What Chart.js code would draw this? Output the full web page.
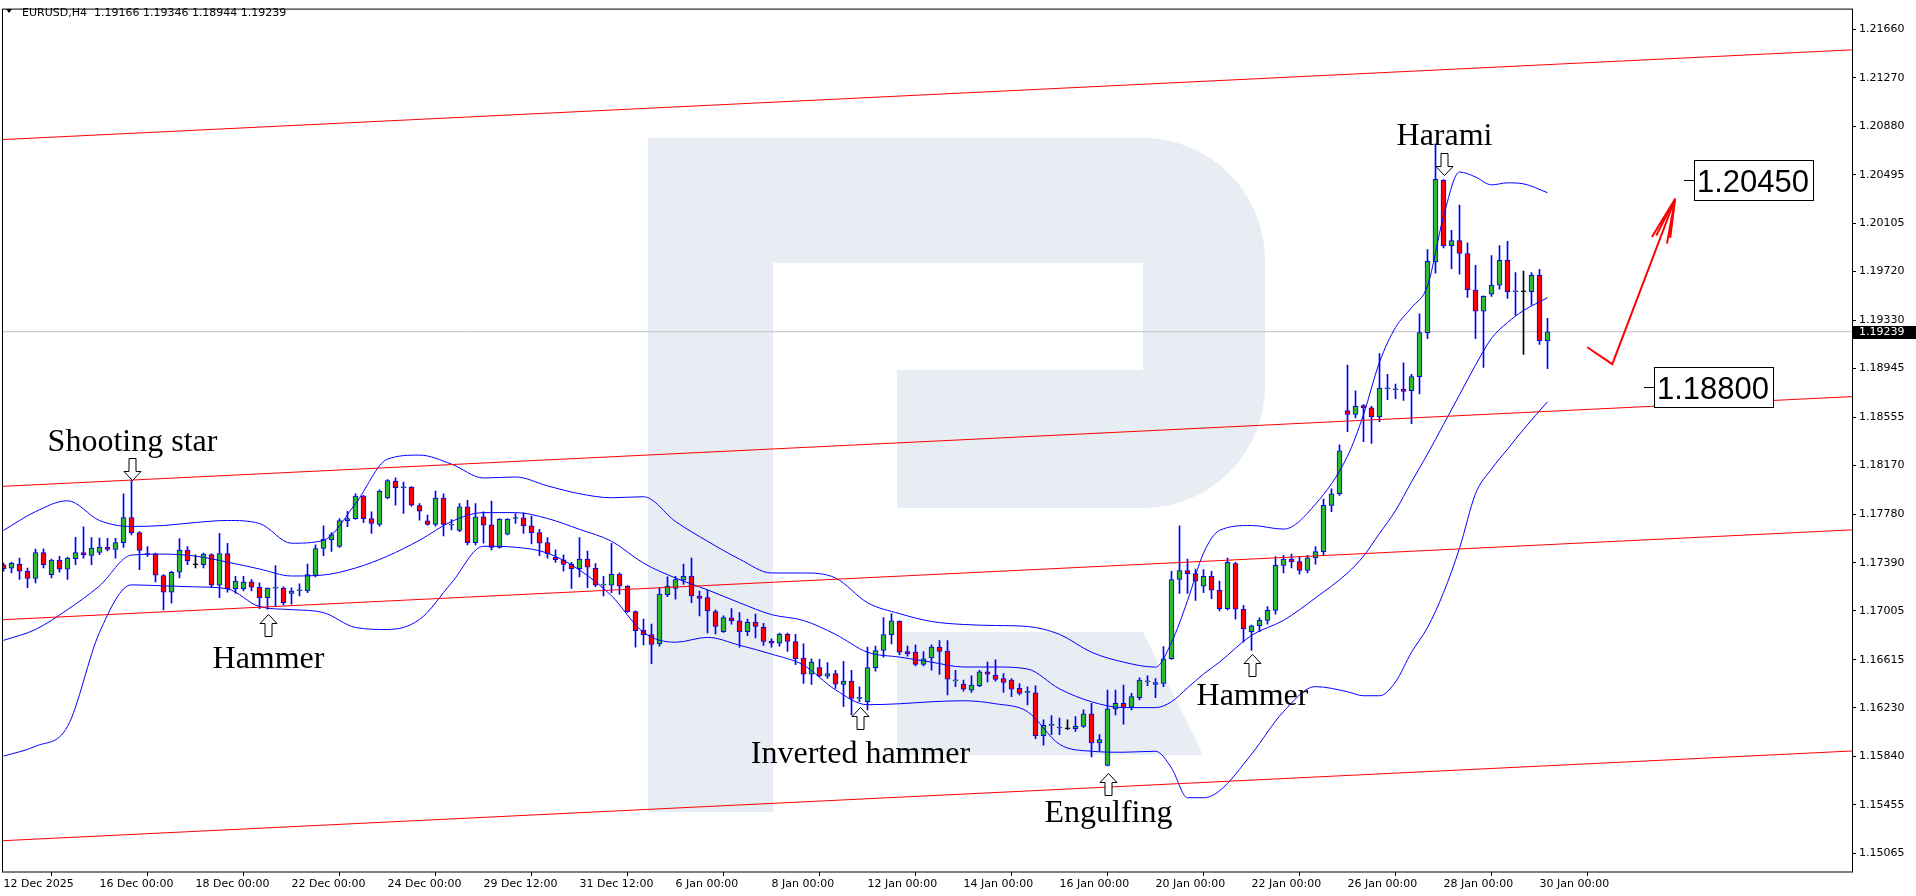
<!DOCTYPE html>
<html>
<head>
<meta charset="utf-8">
<script src="https://cdn.jsdelivr.net/npm/chart.js@4.4.1/dist/chart.umd.min.js"></script>
<style>
html, body { margin: 0; padding: 0; background: #fff; overflow: hidden; }
canvas { display: block; }
</style>
</head>
<body>
<canvas id="chart" width="1916" height="896"></canvas>
<script>
const symbolName = 'EURUSD,H4'
const dateLabels = ['12 Dec 2025', '16 Dec 00:00', '18 Dec 00:00', '22 Dec 00:00', '24 Dec 00:00', '29 Dec 12:00',
    '31 Dec 12:00', '6 Jan 00:00', '8 Jan 00:00', '12 Jan 00:00', '14 Jan 00:00', '16 Jan 00:00',
    '20 Jan 00:00', '22 Jan 00:00', '26 Jan 00:00', '28 Jan 00:00', '30 Jan 00:00'];
const dateIndex = [0, 12, 24, 36, 48, 60, 72, 84, 96, 108, 120, 132, 144, 156, 168, 180, 192];
const priceTicks = [1.21660, 1.21270, 1.20880, 1.20495, 1.20105, 1.19720, 1.19330, 1.18945, 1.18555,
    1.18170, 1.17780, 1.17390, 1.17005, 1.16615, 1.16230, 1.15840, 1.15455, 1.15065];

// H4 candles, oldest first
const open = [
    1.17375, 1.17347, 1.17378, 1.17323, 1.17265, 1.17473, 1.17296, 1.17410, 1.17339, 1.17423,
    1.17473, 1.17450, 1.17473, 1.17516, 1.17497, 1.17552, 1.17753, 1.17632, 1.17463, 1.17463,
    1.17289, 1.17156, 1.17315, 1.17492, 1.17375, 1.17375, 1.17457, 1.17212, 1.17465, 1.17183,
    1.17183, 1.17238, 1.17194, 1.17111, 1.17188, 1.17188, 1.17146, 1.17167, 1.17165, 1.17289,
    1.17505, 1.17574, 1.17521, 1.17727, 1.17743, 1.17925, 1.17745, 1.17698, 1.17909, 1.18044,
    1.17991, 1.17996, 1.17848, 1.17727, 1.17698, 1.17909, 1.17692, 1.17650, 1.17838, 1.17552,
    1.17758, 1.17695, 1.17513, 1.17619, 1.17745, 1.17751, 1.17687, 1.17632, 1.17553, 1.17434,
    1.17415, 1.17378, 1.17344, 1.17421, 1.17347, 1.17212, 1.17212, 1.17299, 1.17204, 1.17000,
    1.16853, 1.16816, 1.16742, 1.17135, 1.17186, 1.17252, 1.17283, 1.17125, 1.17112, 1.17001,
    1.16840, 1.16950, 1.16927, 1.16840, 1.16914, 1.16874, 1.16763, 1.16747, 1.16821, 1.16761,
    1.16629, 1.16500, 1.16552, 1.16483, 1.16504, 1.16418, 1.16444, 1.16306, 1.16280, 1.16552,
    1.16689, 1.16816, 1.16922, 1.16681, 1.16676, 1.16578, 1.16629, 1.16716, 1.16684, 1.16446,
    1.16420, 1.16372, 1.16407, 1.16518, 1.16491, 1.16465, 1.16452, 1.16386, 1.16354, 1.16351,
    1.16008, 1.16090, 1.16069, 1.16063, 1.16063, 1.16082, 1.16182, 1.15950, 1.15770, 1.16222,
    1.16267, 1.16235, 1.16312, 1.16438, 1.16417, 1.16425, 1.16623, 1.17257, 1.17328, 1.17304,
    1.17204, 1.17283, 1.17170, 1.17024, 1.17384, 1.17019, 1.16840, 1.16887, 1.16930, 1.17010,
    1.17370, 1.17420, 1.17400, 1.17330, 1.17430, 1.17480, 1.17850, 1.17943, 1.18608, 1.18577,
    1.18648, 1.18630, 1.18558, 1.18783, 1.18775, 1.18780, 1.18767, 1.18880, 1.19232, 1.19797,
    1.20451, 1.19928, 1.19968, 1.19865, 1.19572, 1.19403, 1.19540, 1.19612, 1.19810, 1.19559,
    1.19559, 1.19559, 1.19691, 1.19166];
const high = [
    1.17389, 1.17397, 1.17428, 1.17349, 1.17500, 1.17503, 1.17420, 1.17442, 1.17436, 1.17595,
    1.17679, 1.17592, 1.17589, 1.17587, 1.17587, 1.17943, 1.18049, 1.17640, 1.17521, 1.17468,
    1.17296, 1.17323, 1.17584, 1.17521, 1.17455, 1.17468, 1.17463, 1.17626, 1.17547, 1.17283,
    1.17283, 1.17257, 1.17230, 1.17191, 1.17368, 1.17199, 1.17191, 1.17222, 1.17381, 1.17534,
    1.17687, 1.17632, 1.17745, 1.17803, 1.17943, 1.17930, 1.17798, 1.17975, 1.18057, 1.18070,
    1.18036, 1.18001, 1.17864, 1.17772, 1.17964, 1.17943, 1.17737, 1.17864, 1.17890, 1.17864,
    1.17798, 1.17885, 1.17745, 1.17745, 1.17785, 1.17790, 1.17764, 1.17658, 1.17592, 1.17494,
    1.17455, 1.17394, 1.17592, 1.17484, 1.17384, 1.17283, 1.17547, 1.17310, 1.17209, 1.17006,
    1.16940, 1.16900, 1.17191, 1.17278, 1.17283, 1.17381, 1.17428, 1.17164, 1.17172, 1.17014,
    1.16966, 1.17025, 1.16993, 1.16940, 1.16980, 1.16906, 1.16782, 1.16829, 1.16829, 1.16818,
    1.16742, 1.16623, 1.16618, 1.16592, 1.16531, 1.16602, 1.16531, 1.16399, 1.16716, 1.16724,
    1.16953, 1.16985, 1.16927, 1.16724, 1.16734, 1.16681, 1.16734, 1.16768, 1.16768, 1.16531,
    1.16452, 1.16486, 1.16531, 1.16597, 1.16615, 1.16504, 1.16465, 1.16425, 1.16399, 1.16407,
    1.16135, 1.16169, 1.16148, 1.16135, 1.16161, 1.16214, 1.16267, 1.16016, 1.16372, 1.16372,
    1.16412, 1.16346, 1.16470, 1.16486, 1.16465, 1.16721, 1.17323, 1.17687, 1.17421, 1.17341,
    1.17336, 1.17323, 1.17244, 1.17428, 1.17394, 1.17051, 1.16892, 1.16950, 1.17040, 1.17440,
    1.17450, 1.17460, 1.17440, 1.17450, 1.17520, 1.17900, 1.17983, 1.18334, 1.18973, 1.18767,
    1.18656, 1.18643, 1.19065, 1.18899, 1.18820, 1.18991, 1.18899, 1.19382, 1.19897, 1.20742,
    1.20456, 1.20050, 1.20253, 1.19950, 1.19770, 1.19527, 1.19849, 1.19928, 1.19963, 1.19712,
    1.19725, 1.19712, 1.19738, 1.19346];
const low = [
    1.17323, 1.17310, 1.17257, 1.17191, 1.17230, 1.17349, 1.17270, 1.17315, 1.17257, 1.17375,
    1.17428, 1.17375, 1.17455, 1.17486, 1.17428, 1.17513, 1.17613, 1.17336, 1.17442, 1.17238,
    1.17014, 1.17067, 1.17270, 1.17375, 1.17349, 1.17349, 1.17191, 1.17111, 1.17156, 1.17146,
    1.17165, 1.17165, 1.17024, 1.17019, 1.17040, 1.17051, 1.17059, 1.17125, 1.17151, 1.17278,
    1.17447, 1.17481, 1.17513, 1.17679, 1.17737, 1.17711, 1.17626, 1.17684, 1.17901, 1.17851,
    1.17785, 1.17843, 1.17732, 1.17692, 1.17684, 1.17605, 1.17653, 1.17640, 1.17534, 1.17534,
    1.17547, 1.17494, 1.17508, 1.17613, 1.17706, 1.17626, 1.17542, 1.17447, 1.17428, 1.17394,
    1.17323, 1.17186, 1.17278, 1.17191, 1.17199, 1.17125, 1.17151, 1.17138, 1.16993, 1.16716,
    1.16734, 1.16584, 1.16724, 1.17120, 1.17099, 1.17217, 1.17072, 1.16966, 1.16829, 1.16821,
    1.16834, 1.16900, 1.16716, 1.16808, 1.16789, 1.16729, 1.16716, 1.16724, 1.16681, 1.16576,
    1.16426, 1.16418, 1.16478, 1.16465, 1.16386, 1.16240, 1.16174, 1.16280, 1.16214, 1.16523,
    1.16636, 1.16742, 1.16655, 1.16644, 1.16565, 1.16565, 1.16531, 1.16497, 1.16333, 1.16399,
    1.16364, 1.16354, 1.16399, 1.16438, 1.16444, 1.16354, 1.16320, 1.16333, 1.16254, 1.15984,
    1.15932, 1.16016, 1.16016, 1.16056, 1.16042, 1.16074, 1.15837, 1.15884, 1.15765, 1.16174,
    1.16100, 1.16214, 1.16293, 1.16407, 1.16312, 1.16399, 1.16618, 1.17146, 1.17146, 1.17090,
    1.17151, 1.17104, 1.17006, 1.17014, 1.16940, 1.16755, 1.16689, 1.16840, 1.16900, 1.16980,
    1.17310, 1.17350, 1.17300, 1.17310, 1.17380, 1.17450, 1.17800, 1.17930, 1.18440, 1.18550,
    1.18360, 1.18345, 1.18519, 1.18696, 1.18704, 1.18690, 1.18503, 1.18741, 1.19184, 1.19707,
    1.19910, 1.19744, 1.19699, 1.19514, 1.19184, 1.18954, 1.19522, 1.19580, 1.19506, 1.19369,
    1.19057, 1.19453, 1.19137, 1.18944];
const close = [
    1.17344, 1.17386, 1.17323, 1.17265, 1.17473, 1.17375, 1.17413, 1.17339, 1.17428, 1.17473,
    1.17455, 1.17508, 1.17516, 1.17497, 1.17552, 1.17753, 1.17632, 1.17489, 1.17457, 1.17291,
    1.17156, 1.17315, 1.17492, 1.17405, 1.17375, 1.17460, 1.17212, 1.17465, 1.17183, 1.17244,
    1.17236, 1.17196, 1.17111, 1.17188, 1.17191, 1.17072, 1.17165, 1.17170, 1.17296, 1.17505,
    1.17579, 1.17616, 1.17729, 1.17745, 1.17925, 1.17743, 1.17706, 1.17964, 1.18049, 1.17991,
    1.17994, 1.17851, 1.17803, 1.17698, 1.17909, 1.17698, 1.17695, 1.17838, 1.17552, 1.17758,
    1.17692, 1.17513, 1.17740, 1.17740, 1.17748, 1.17687, 1.17632, 1.17547, 1.17463, 1.17415,
    1.17378, 1.17344, 1.17421, 1.17355, 1.17212, 1.17215, 1.17299, 1.17204, 1.17000, 1.16848,
    1.16816, 1.16737, 1.17141, 1.17204, 1.17257, 1.17283, 1.17125, 1.17106, 1.17006, 1.16882,
    1.16953, 1.16927, 1.16840, 1.16914, 1.16882, 1.16761, 1.16747, 1.16821, 1.16761, 1.16623,
    1.16500, 1.16597, 1.16486, 1.16504, 1.16420, 1.16444, 1.16306, 1.16309, 1.16552, 1.16689,
    1.16816, 1.16927, 1.16676, 1.16663, 1.16578, 1.16623, 1.16716, 1.16681, 1.16460, 1.16449,
    1.16380, 1.16412, 1.16518, 1.16499, 1.16457, 1.16433, 1.16380, 1.16346, 1.16357, 1.16008,
    1.16090, 1.16093, 1.16072, 1.16063, 1.16082, 1.16182, 1.15950, 1.15976, 1.16222, 1.16267,
    1.16235, 1.16320, 1.16452, 1.16441, 1.16433, 1.16623, 1.17257, 1.17328, 1.17304, 1.17244,
    1.17283, 1.17172, 1.17024, 1.17394, 1.17019, 1.16861, 1.16887, 1.16930, 1.17010, 1.17370,
    1.17420, 1.17400, 1.17330, 1.17430, 1.17480, 1.17850, 1.17943, 1.18286, 1.18577, 1.18643,
    1.18630, 1.18558, 1.18788, 1.18786, 1.18778, 1.18762, 1.18880, 1.19232, 1.19802, 1.20459,
    1.19928, 1.19968, 1.19865, 1.19575, 1.19403, 1.19522, 1.19612, 1.19810, 1.19559, 1.19562,
    1.19559, 1.19691, 1.19168, 1.19239];

// Bollinger bands at these bar numbers
const bandIndex = [0, 4, 8, 12, 16, 20, 24, 28, 32, 36, 40, 44, 48, 52, 56, 60, 64, 68, 72, 76, 80, 84, 88, 92,
    96, 100, 104, 108, 112, 116, 120, 124, 128, 132, 136, 140, 144, 146, 148, 150, 152, 156, 160, 164, 168,
    170, 172, 174, 176, 178, 180, 182, 184, 186, 188, 190, 193];
const bandUpper = [1.17650, 1.17800, 1.17887, 1.17729, 1.17681, 1.17689, 1.17713, 1.17729, 1.17705, 1.17547,
    1.17571, 1.17864, 1.18220, 1.18252, 1.18180, 1.18069, 1.18077, 1.18006, 1.17943, 1.17911, 1.17919,
    1.17721, 1.17563, 1.17420, 1.17309, 1.17309, 1.17269, 1.17071, 1.16984, 1.16921, 1.16897, 1.16889,
    1.16881, 1.16818, 1.16675, 1.16596, 1.16556, 1.16754, 1.17087, 1.17468, 1.17650, 1.17689, 1.17660,
    1.17860, 1.18244, 1.18576, 1.18996, 1.19273, 1.19432, 1.19606, 1.20161, 1.20517, 1.20477, 1.20414,
    1.20430, 1.20422, 1.20351];
const bandMiddle = [1.16770, 1.16857, 1.17016, 1.17206, 1.17452, 1.17460, 1.17444, 1.17396, 1.17341, 1.17285,
    1.17293, 1.17349, 1.17444, 1.17571, 1.17721, 1.17792, 1.17792, 1.17745, 1.17658, 1.17563, 1.17388,
    1.17269, 1.17174, 1.17071, 1.16976, 1.16929, 1.16818, 1.16675, 1.16636, 1.16596, 1.16557, 1.16557,
    1.16541, 1.16382, 1.16279, 1.16232, 1.16232, 1.16279, 1.16390, 1.16501, 1.16596, 1.16810, 1.16930,
    1.17110, 1.17309, 1.17444, 1.17626, 1.17808, 1.18038, 1.18260, 1.18497, 1.18735, 1.18972, 1.19186,
    1.19313, 1.19408, 1.19511];
const bandLower = [1.15844, 1.15923, 1.16081, 1.16834, 1.17214, 1.17206, 1.17198, 1.17182, 1.17040, 1.17016,
    1.16992, 1.16873, 1.16857, 1.16937, 1.17230, 1.17523, 1.17515, 1.17468, 1.17333, 1.17127, 1.16834,
    1.16755, 1.16794, 1.16731, 1.16660, 1.16572, 1.16374, 1.16255, 1.16263, 1.16279, 1.16287, 1.16263,
    1.16200, 1.15939, 1.15883, 1.15875, 1.15883, 1.15749, 1.15511, 1.15511, 1.15566, 1.15860, 1.16200,
    1.16400, 1.16359, 1.16327, 1.16327, 1.16438, 1.16675, 1.16873, 1.17151, 1.17507, 1.17943, 1.18141,
    1.18299, 1.18458, 1.18679];

// parallel red channel lines, value at the left and right edge of the plot
const channelIndex = [-0.1875, 231.0625];
const channelTop = [1.20776, 1.21494];
const channelUpper = [1.18002, 1.18720];
const channelLower = [1.16935, 1.17654];
const channelBottom = [1.15167, 1.15885];

// candlestick pattern notes
const patternNames = ['Shooting star', 'Hammer', 'Inverted hammer', 'Engulfing', 'Hammer', 'Harami'];
const patternIndex = [16, 33, 107, 138, 156, 180];
const patternDir = ['down', 'up', 'up', 'up', 'up', 'down'];
const patternArrowPrice = [1.18049, 1.16979, 1.16236, 1.15709, 1.16660, 1.20493];
const patternTextPrice = [1.18283, 1.16549, 1.15788, 1.15313, 1.16256, 1.20731];

// forecast
const targetLevels = [1.20450, 1.18800];
const targetIndex = [211.3, 206.3];
const forecastIndex = [197.96, 201.1, 208.96];
const forecastPrice = [1.19115, 1.18980, 1.20303];
const arrowHeadIndex = [206.05, 206.59, 207.93, 208.34];
const arrowHeadPrice = [1.19997, 1.20008, 1.19944, 1.19989];

const GREEN = '#2eb82e'
const RED = '#ff0000'
const BLUE = '#0000ff'

const last = close.length - 1;
const bars = open.map((o, i) => ({ o: o, c: close[i], h: high[i], l: low[i] }));
const bodyColor = bars.map(b => b.c > b.o ? GREEN : (b.c < b.o ? RED : '#000000'));
const lineColor = bars.map(b => b.c === b.o ? '#000000' : BLUE);

const linePts = (xs, ys) => xs.map((x, k) => ({ x: x, y: ys[k] }));

const headSegments = [];
arrowHeadIndex.forEach((x, k) => {
    headSegments.push({ x: forecastIndex[2], y: forecastPrice[2] });
    headSegments.push({ x: x, y: arrowHeadPrice[k] });
    headSegments.push({ x: x, y: null });
});

const lineDs = (data, color, width, order) => ({
    type: 'line',
    data: data,
    borderColor: color,
    borderWidth: width,
    pointRadius: 0,
    fill: false,
    spanGaps: false,
    order: order,
});

function drawLogo(ctx, a) {
    ctx.save();
    ctx.beginPath();
    ctx.rect(a.left, a.top, a.right - a.left, a.bottom - a.top);
    ctx.clip();
    ctx.fillStyle = '#e8ecf3';
    ctx.fillRect(648, 138, 125, 674);
    ctx.beginPath();
    ctx.moveTo(773, 138);
    ctx.lineTo(1143, 138);
    ctx.arcTo(1265, 138, 1265, 260, 122);
    ctx.lineTo(1265, 386);
    ctx.arcTo(1265, 508, 1143, 508, 122);
    ctx.lineTo(897, 508);
    ctx.lineTo(897, 370);
    ctx.lineTo(1143, 370);
    ctx.lineTo(1143, 263);
    ctx.lineTo(773, 263);
    ctx.closePath();
    ctx.fill();
    ctx.beginPath();
    ctx.moveTo(897, 632);
    ctx.lineTo(1143, 632);
    ctx.lineTo(1203, 755);
    ctx.lineTo(897, 755);
    ctx.closePath();
    ctx.fill();
    ctx.restore();
}

function drawArrow(ctx, x, yTip, dir) {
    const s = dir === 'down' ? -1 : 1;
    const pts = [[0, 0], [8.5, 9], [3.5, 9], [3.5, 22], [-3.5, 22], [-3.5, 9], [-8.5, 9]];
    ctx.beginPath();
    pts.forEach(([dx, dy], k) => {
        const px = x + dx, py = yTip + s * dy;
        if (k === 0) ctx.moveTo(px, py); else ctx.lineTo(px, py);
    });
    ctx.closePath();
    ctx.fillStyle = '#ffffff';
    ctx.fill();
    ctx.strokeStyle = '#000000';
    ctx.lineWidth = 1;
    ctx.stroke();
}

const decor = {
    id: 'decor',
    beforeDraw(chart) {
        const ctx = chart.ctx;
        ctx.save();
        ctx.fillStyle = '#ffffff';
        ctx.fillRect(0, 0, chart.width, chart.height);
        ctx.restore();
    },
    beforeDatasetsDraw(chart) {
        drawLogo(chart.ctx, chart.chartArea);
    },
    afterDatasetsDraw(chart) {
        const ctx = chart.ctx;
        const xs = chart.scales.x, ys = chart.scales.y;
        ctx.save();
        patternNames.forEach((name, k) => {
            const x = Math.round(xs.getPixelForValue(patternIndex[k])) + 0.5;
            drawArrow(ctx, x, Math.round(ys.getPixelForValue(patternArrowPrice[k])) + 0.5, patternDir[k]);
            ctx.fillStyle = '#000000';
            ctx.font = '32px "Liberation Serif"';
            ctx.textAlign = 'center';
            ctx.textBaseline = 'alphabetic';
            ctx.fillText(name, x, ys.getPixelForValue(patternTextPrice[k]));
        });
        targetLevels.forEach((lvl, k) => {
            const y = Math.round(ys.getPixelForValue(lvl));
            const bx = Math.round(xs.getPixelForValue(targetIndex[k]));
            ctx.strokeStyle = '#000000';
            ctx.lineWidth = 1;
            ctx.beginPath();
            ctx.moveTo(bx - 10, y + 0.5);
            ctx.lineTo(bx, y + 0.5);
            ctx.stroke();
            ctx.fillStyle = '#ffffff';
            ctx.fillRect(bx, y - 20, 119, 40);
            ctx.strokeRect(bx + 0.5, y - 20 + 0.5, 119, 40);
            ctx.fillStyle = '#000000';
            ctx.font = '31px "Liberation Sans"';
            ctx.textAlign = 'left';
            ctx.fillText(lvl.toFixed(5), bx + 3, y + 12);
        });
        ctx.restore();
    },
    afterDraw(chart) {
        const ctx = chart.ctx;
        const a = chart.chartArea;
        const ys = chart.scales.y;
        ctx.save();
        ctx.strokeStyle = '#000000';
        ctx.lineWidth = 1;
        ctx.strokeRect(a.left + 0.5, a.top - 0.5, a.right - a.left, a.bottom - a.top + 0.5);
        // last price tag
        const y = Math.round(ys.getPixelForValue(close[last]));
        ctx.fillStyle = '#000000';
        ctx.fillRect(a.right + 1, y - 6, 63, 13);
        ctx.fillStyle = '#ffffff';
        ctx.font = '11px "DejaVu Sans"';
        ctx.textAlign = 'left';
        ctx.textBaseline = 'middle';
        ctx.fillText(close[last].toFixed(5), a.right + 7, y + 0.5);
        // header
        ctx.fillStyle = '#000000';
        ctx.beginPath();
        ctx.moveTo(6, 9);
        ctx.lineTo(12, 9);
        ctx.lineTo(9, 13);
        ctx.closePath();
        ctx.fill();
        ctx.textBaseline = 'alphabetic';
        ctx.fillText(symbolName + '  ' + [open[last], high[last], low[last], close[last]].map(v => v.toFixed(5)).join(' '), 22, 16);
        ctx.restore();
    }
};

const chart = new Chart(document.getElementById('chart'), {
    type: 'bar',
    data: {
        datasets: [
            {
                type: 'bar',
                data: bars.map((b, i) => ({ x: i, y: [Math.min(b.o, b.c), Math.max(b.o, b.c)] })),
                backgroundColor: bodyColor,
                borderColor: lineColor,
                borderWidth: 1,
                borderSkipped: false,
                barThickness: 5,
                minBarLength: 1,
                grouped: false,
                order: 2,
            },
            {
                type: 'bar',
                data: bars.map((b, i) => ({ x: i, y: [b.l, b.h] })),
                backgroundColor: lineColor,
                borderWidth: 0,
                barThickness: 1,
                grouped: false,
                order: 3,
            },
            Object.assign(lineDs(linePts(bandIndex, bandUpper), BLUE, 1, 1), { cubicInterpolationMode: 'monotone' }),
            Object.assign(lineDs(linePts(bandIndex, bandMiddle), BLUE, 1, 1), { cubicInterpolationMode: 'monotone' }),
            Object.assign(lineDs(linePts(bandIndex, bandLower), BLUE, 1, 1), { cubicInterpolationMode: 'monotone' }),
            lineDs(linePts(channelIndex, channelTop), RED, 1, 0),
            lineDs(linePts(channelIndex, channelUpper), RED, 1, 0),
            lineDs(linePts(channelIndex, channelLower), RED, 1, 0),
            lineDs(linePts(channelIndex, channelBottom), RED, 1, 0),
            lineDs(linePts(channelIndex, [close[last], close[last]]), '#c0c0c0', 1, 5),
            lineDs(linePts(forecastIndex, forecastPrice), RED, 2, 0),
            lineDs(headSegments, RED, 2, 0),
        ],
    },
    options: {
        responsive: false,
        animation: false,
        devicePixelRatio: 1,
        layout: { padding: { left: 2, top: 1, right: 0, bottom: 0 } },
        plugins: { legend: { display: false }, tooltip: { enabled: false } },
        scales: {
            x: {
                type: 'linear',
                min: -0.1875,
                max: 231.0625,
                offset: false,
                afterBuildTicks: axis => { axis.ticks = dateIndex.map(v => ({ value: v })); },
                afterFit: axis => { axis.height = 24; },
                ticks: {
                    autoSkip: false,
                    maxRotation: 0,
                    align: 'start',
                    padding: 2,
                    color: '#000000',
                    font: { family: 'DejaVu Sans', size: 11 },
                    callback: v => { const k = dateIndex.indexOf(v); return k >= 0 ? dateLabels[k] : ''; },
                },
                grid: { drawOnChartArea: false, tickLength: 4, color: '#000000' },
                border: { display: false },
            },
            y: {
                type: 'linear',
                position: 'right',
                min: 1.14917,
                max: 1.21816,
                afterBuildTicks: axis => { axis.ticks = priceTicks.map(v => ({ value: v })); },
                afterFit: axis => { axis.width = 64; },
                ticks: {
                    autoSkip: false,
                    padding: 3,
                    color: '#000000',
                    font: { family: 'DejaVu Sans', size: 11 },
                    callback: v => v.toFixed(5),
                },
                grid: { drawOnChartArea: false, tickLength: 4, color: '#000000' },
                border: { display: false },
            },
        },
    },
    plugins: [decor],
});
</script>
</body>
</html>
